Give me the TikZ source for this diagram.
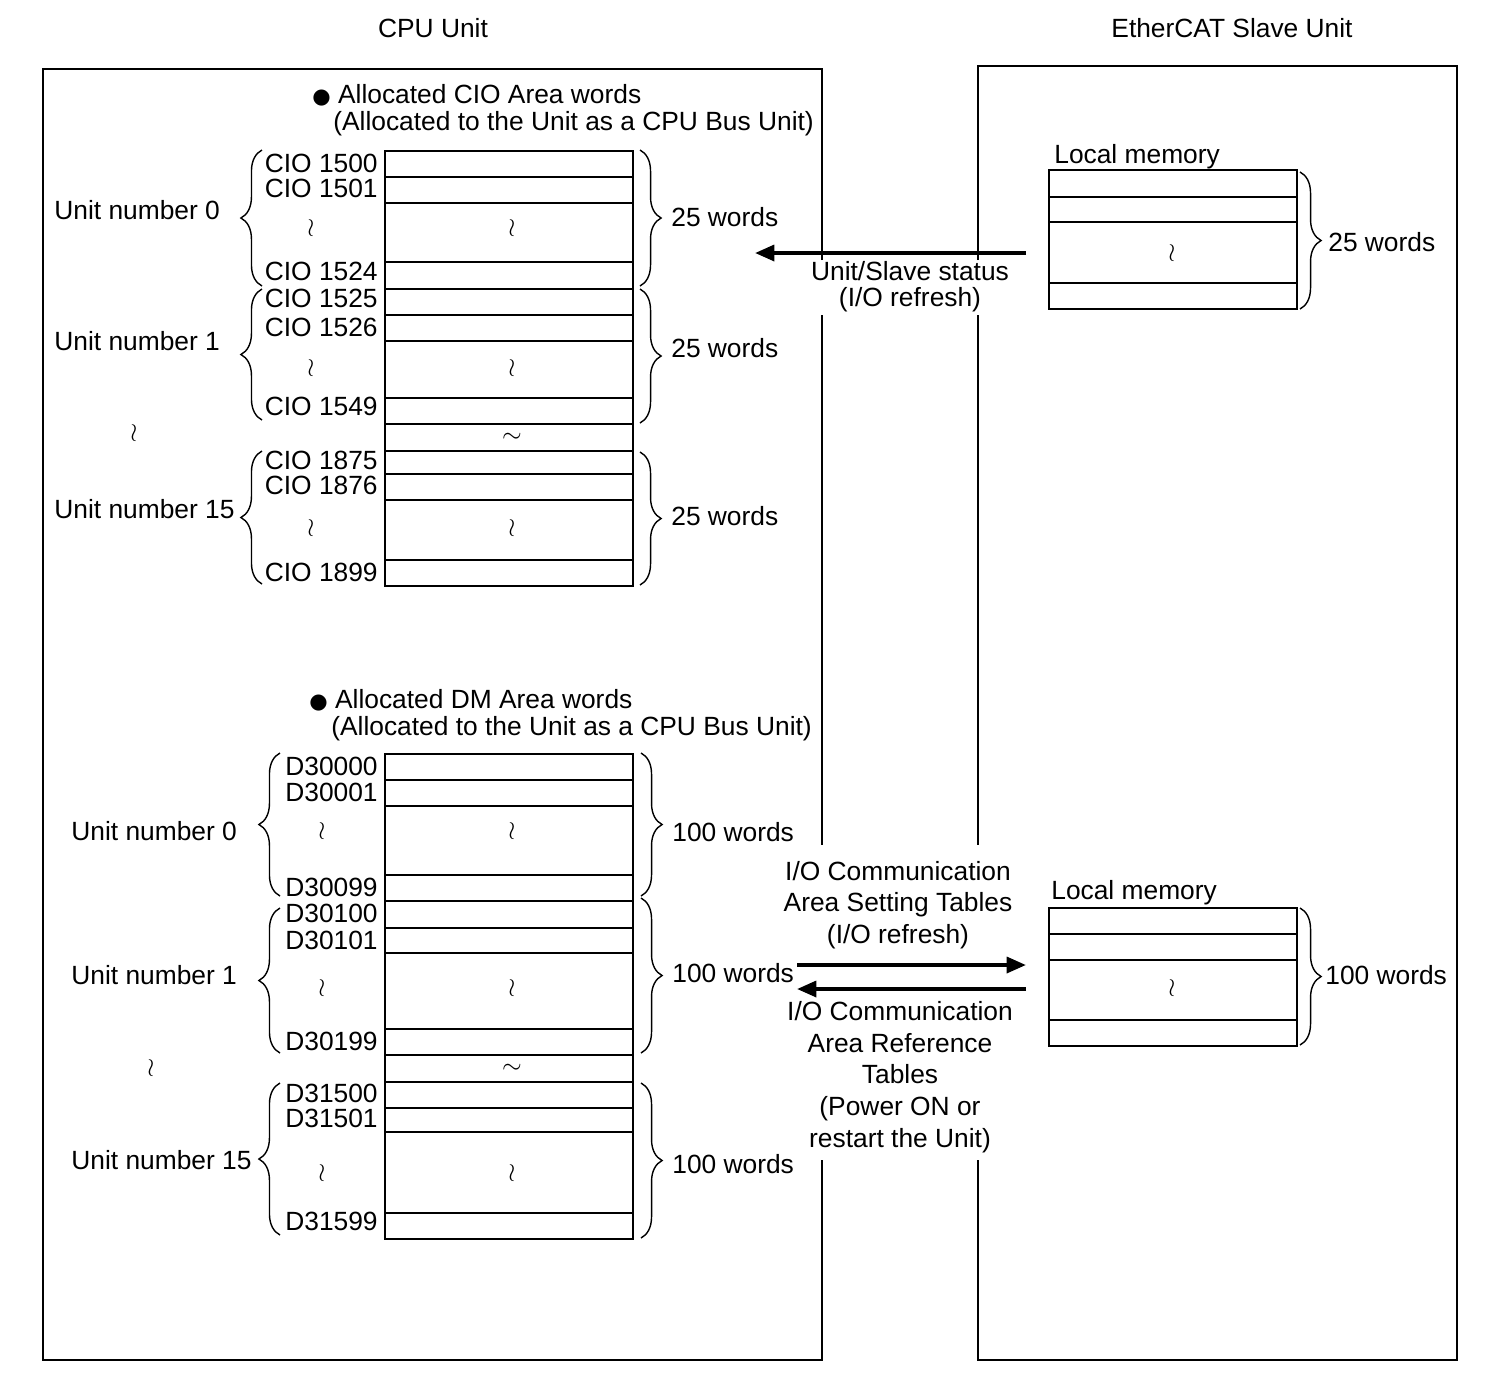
\documentclass[tikz,border=0pt]{standalone}
\usepackage{fontspec}
\setmainfont{Liberation Sans}
\newfontfamily\dotfont{DejaVu Sans}
\usetikzlibrary{arrows.meta,decorations.pathreplacing}

\tikzset{
  txt/.style={inner sep=0pt, text height=10.7pt, text depth=0pt, font=\fontsize{15}{18}\selectfont},
  addr/.style={txt, anchor=east},
  note/.style={inner sep=0pt, align=center, font=\fontsize{15}{18.1}\selectfont},
  wav/.style={inner sep=0pt, font=\fontsize{14}{14}\selectfont},
  grid/.style={line width=1.2pt},
  frame/.style={line width=1.1pt},
  brc/.style={decorate, decoration={brace, amplitude=12pt}, line width=0.8pt},
  flow/.style={line width=2.2pt, -{Triangle[length=11pt,width=9pt]}},
}

\begin{document}
\begin{tikzpicture}[x=0.02cm, y=-0.02cm]
\useasboundingbox (0,0) rectangle (1498,1374);

\node[txt] (cpu) at (433,28) {CPU Unit};
\node[txt] (slave) at (1232,28) {EtherCAT Slave Unit};

% unit frames
\draw[frame] (822,260) -- (822,69) -- (43,69) -- (43,1360) -- (822,1360) -- (822,1160);
\draw[frame] (822,315) -- (822,845);
\draw[frame] (978,260) -- (978,66) -- (1457,66) -- (1457,1360) -- (978,1360) -- (978,1160);
\draw[frame] (978,315) -- (978,845);

% CIO area words
\node[txt, anchor=west] (ciohead) at (312,94) {{\dotfont\fontsize{12}{12}\selectfont ●} Allocated CIO Area words};
\node[txt, anchor=west] (ciosub) at (333,121) {(Allocated to the Unit as a CPU Bus Unit)};
\draw[grid] (385,150.7) rectangle (633,585.7);
\foreach \y in {176.7,202.7,262.3,288.7,314.7,341.3,397.7,424,450.7,474.3,500,560.3}
  \draw[grid] (385,\y) -- (633,\y);
\foreach \n/\y in {1500/163,1501/188,1524/271,1525/298,1526/327,1549/406,1875/460,1876/485,1899/572}
  \node[addr] (cio\n) at (378,\y) {CIO \n};
\foreach \y [count=\i] in {228,368,528} {
  \node[wav] (ciow\i) at (311,\y) {$\wr$};
  \node[wav] (cioc\i) at (512,\y) {$\wr$};
}
\node[wav] (ciogap) at (512,438) {$\sim$};
\node[wav] (ciounits) at (134,433) {$\wr$};
\node[txt, anchor=west] (ciou0) at (54,210) {Unit number 0};
\node[txt, anchor=west] (ciou1) at (54,341) {Unit number 1};
\node[txt, anchor=west] (ciou15) at (54,509) {Unit number 15};
\draw[brc] (262,286) -- (262,150);
\draw[brc] (262,420) -- (262,289);
\draw[brc] (262,584) -- (262,451);
\draw[brc] (640,150) -- (640,286);
\draw[brc] (640,289) -- (640,423);
\draw[brc] (640,452) -- (640,585);
\node[txt, anchor=west] (ciow0) at (671,217) {25 words};
\node[txt, anchor=west] (ciow1) at (671,348) {25 words};
\node[txt, anchor=west] (ciow15) at (671,516) {25 words};

% DM area words
\node[txt, anchor=west] (dmhead) at (309,699) {{\dotfont\fontsize{12}{12}\selectfont ●} Allocated DM Area words};
\node[txt, anchor=west] (dmsub) at (331,726) {(Allocated to the Unit as a CPU Bus Unit)};
\draw[grid] (385,754) rectangle (633,1239);
\foreach \y in {780,806,875,901,928,953,1029,1055,1082,1108,1132,1213}
  \draw[grid] (385,\y) -- (633,\y);
\foreach \n/\y in {30000/766,30001/792,30099/887,30100/913,30101/940,30199/1041,31500/1093,31501/1118,31599/1221}
  \node[addr] (dm\n) at (378,\y) {D\n};
\foreach \y [count=\i] in {831,988,1173} {
  \node[wav] (dmw\i) at (322,\y) {$\wr$};
  \node[wav] (dmc\i) at (512,\y) {$\wr$};
}
\node[wav] (dmgap) at (512,1069) {$\sim$};
\node[wav] (dmunits) at (151,1068) {$\wr$};
\node[txt, anchor=west] (dmu0) at (71,831) {Unit number 0};
\node[txt, anchor=west] (dmu1) at (71,975) {Unit number 1};
\node[txt, anchor=west] (dmu15) at (71,1160) {Unit number 15};
\draw[brc] (280,896) -- (280,753);
\draw[brc] (280,1053) -- (280,908);
\draw[brc] (280,1235) -- (280,1083);
\draw[brc] (641,753) -- (641,896);
\draw[brc] (641,898) -- (641,1053);
\draw[brc] (641,1083) -- (641,1238);
\node[txt, anchor=west] (dmw0) at (672,832) {100 words};
\node[txt, anchor=west] (dmw1) at (672,973) {100 words};
\node[txt, anchor=west] (dmw15) at (672,1164) {100 words};

% slave local memory
\node[txt, anchor=west] (locst) at (1054,154) {Local memory};
\draw[grid] (1049,170) rectangle (1297,309);
\foreach \y in {197,222,283}
  \draw[grid] (1049,\y) -- (1297,\y);
\node[wav] (locstw) at (1172,253) {$\wr$};
\draw[brc] (1300,172) -- (1300,309);
\node[txt, anchor=west] (locstn) at (1328,242) {25 words};

\node[txt, anchor=west] (locio) at (1051,890) {Local memory};
\draw[grid] (1049,908) rectangle (1297,1046);
\foreach \y in {934,960,1020}
  \draw[grid] (1049,\y) -- (1297,\y);
\node[wav] (lociow) at (1172,988) {$\wr$};
\draw[brc] (1300,908) -- (1300,1045);
\node[txt, anchor=west] (locion) at (1325,975) {100 words};

% transfers
\coordinate (stsrc) at (1026,253);
\coordinate (stdst) at (755,253);
\coordinate (setsrc) at (797,965);
\coordinate (setdst) at (1026,965);
\coordinate (refsrc) at (1026,989);
\coordinate (refdst) at (797,989);
\foreach \from/\to in {stsrc/stdst, setsrc/setdst, refsrc/refdst}
  \draw[flow] (\from) -- (\to);

\node[note, font=\fontsize{15}{14.8}\selectfont] (stlbl) at (910,287) {Unit/Slave status\\(I/O refresh)};
\node[note] (setlbl) at (898,905) {I/O Communication\\Area Setting Tables\\(I/O refresh)};
\node[note] (reflbl) at (900,1077) {I/O Communication\\Area Reference\\Tables\\(Power ON or\\restart the Unit)};

\end{tikzpicture}
\end{document}
